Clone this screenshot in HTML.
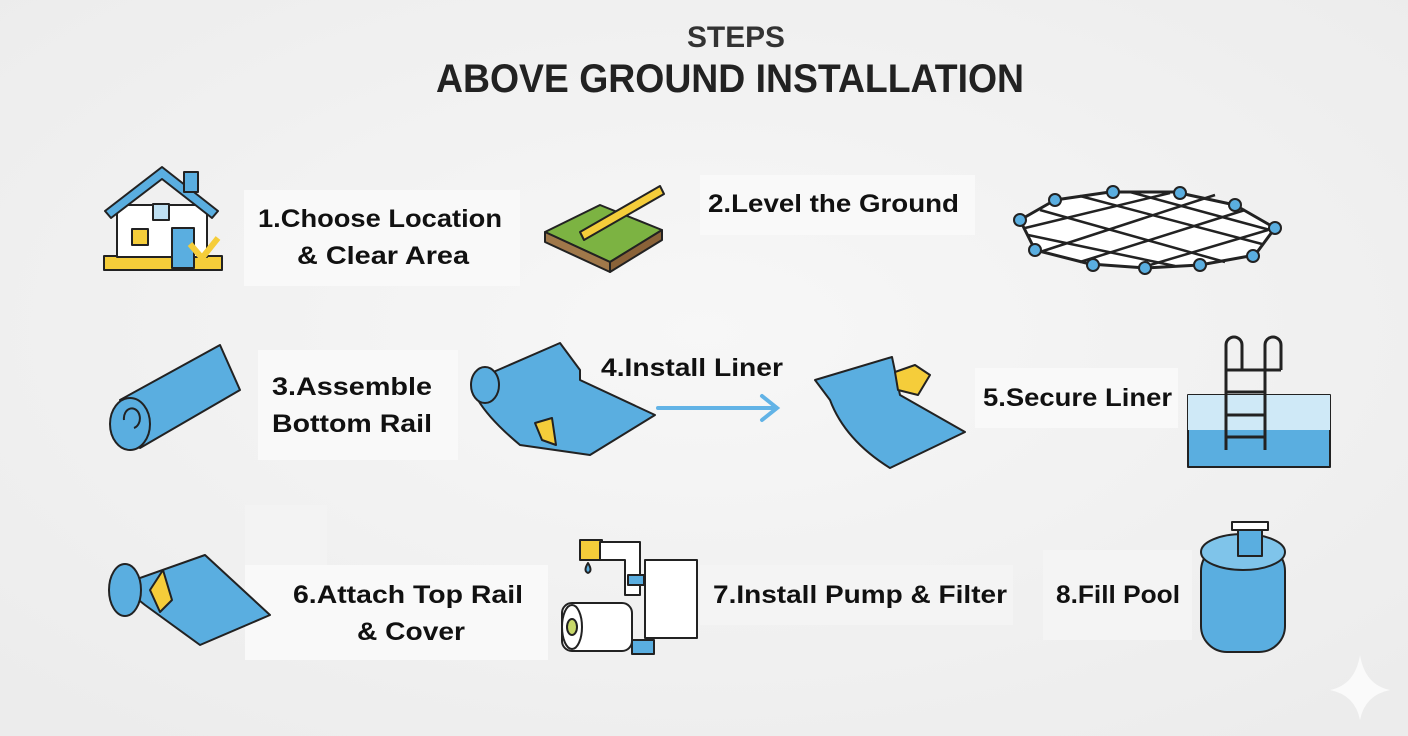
<!DOCTYPE html>
<html><head><meta charset="utf-8"><style>
html,body{margin:0;padding:0;width:1408px;height:736px;overflow:hidden;background:#f0f0f0}
svg{display:block}
text{font-family:"Liberation Sans",sans-serif;font-weight:bold;fill:#111}
</style></head><body>
<svg width="1408" height="736" viewBox="0 0 1408 736">
<defs><radialGradient id="bg" cx="50%" cy="45%" r="70%"><stop offset="0" stop-color="#f7f7f7"/><stop offset="1" stop-color="#ececec"/></radialGradient></defs>
<rect width="1408" height="736" fill="url(#bg)"/>
<text x="736" y="47" text-anchor="middle" font-size="30" fill="#333" style="fill:#333" textLength="98" lengthAdjust="spacingAndGlyphs">STEPS</text>
<text x="730" y="92" text-anchor="middle" font-size="40" style="fill:#222" textLength="588" lengthAdjust="spacingAndGlyphs">ABOVE GROUND INSTALLATION</text>

<!-- label boxes -->
<g fill="#f9f9f9">
<rect x="244" y="190" width="276" height="96"/>
<rect x="700" y="175" width="275" height="60"/>
<rect x="258" y="350" width="200" height="110"/>
<rect x="975" y="368" width="203" height="60"/>
<rect x="245" y="565" width="303" height="95"/>
<rect x="245" y="505" width="82" height="60" fill="#f3f3f3"/>
<rect x="700" y="565" width="313" height="60" fill="#f4f4f4"/>
<rect x="1043" y="550" width="149" height="90" fill="#f4f4f4"/>
</g>

<g font-size="25">
<text x="258" y="227" textLength="244" lengthAdjust="spacingAndGlyphs">1.Choose Location</text>
<text x="297" y="264" textLength="172" lengthAdjust="spacingAndGlyphs">&amp; Clear Area</text>
<text x="708" y="212" textLength="251" lengthAdjust="spacingAndGlyphs">2.Level the Ground</text>
<text x="272" y="395" textLength="160" lengthAdjust="spacingAndGlyphs">3.Assemble</text>
<text x="272" y="432" textLength="160" lengthAdjust="spacingAndGlyphs">Bottom Rail</text>
<text x="601" y="376" textLength="182" lengthAdjust="spacingAndGlyphs">4.Install Liner</text>
<text x="983" y="406" textLength="189" lengthAdjust="spacingAndGlyphs">5.Secure Liner</text>
<text x="293" y="603" textLength="230" lengthAdjust="spacingAndGlyphs">6.Attach Top Rail</text>
<text x="357" y="640" textLength="108" lengthAdjust="spacingAndGlyphs">&amp; Cover</text>
<text x="713" y="603" textLength="294" lengthAdjust="spacingAndGlyphs">7.Install Pump &amp; Filter</text>
<text x="1056" y="603" textLength="124" lengthAdjust="spacingAndGlyphs">8.Fill Pool</text>
</g>

<!-- arrow -->
<g stroke="#62b3e6" stroke-width="4" fill="none" stroke-linecap="round">
<line x1="658" y1="408" x2="776" y2="408"/><polyline points="762,396 777,408 762,420"/>
</g>

<g stroke="#222" stroke-width="2" stroke-linejoin="round">
<!-- house -->
<rect x="104" y="256" width="118" height="14" fill="#f5cd3a"/>
<rect x="117" y="205" width="90" height="52" fill="#fff"/>
<polygon points="105,211 162,167 218,211 212,218 162,179 111,218" fill="#5aaee0"/>
<rect x="184" y="172" width="14" height="20" fill="#5aaee0"/>
<rect x="153" y="204" width="16" height="16" fill="#bfe0f2"/>
<rect x="132" y="229" width="16" height="16" fill="#f5cd3a"/>
<rect x="172" y="228" width="22" height="40" fill="#5aaee0"/>
<polyline points="190,244 202,258 218,238" fill="none" stroke="#f5cd3a" stroke-width="6"/>
<!-- level ground -->
<polygon points="545,232 600,205 662,230 610,262" fill="#7cb342"/>
<polygon points="545,232 610,262 610,272 545,242" fill="#a0784a"/>
<polygon points="610,262 662,230 662,240 610,272" fill="#8a6238"/>
<polygon points="580,232 660,186 664,194 584,240" fill="#f5cd3a"/>
<!-- grid frame -->
<polygon points="1020,220 1055,200 1110,192 1175,192 1235,205 1275,228 1255,255 1200,265 1145,268 1090,264 1035,250" fill="#fff" stroke-width="3"/>
<g stroke-width="2.5" fill="none">
<line x1="1040" y1="210" x2="1225" y2="262"/><line x1="1080" y1="196" x2="1262" y2="244"/>
<line x1="1028" y1="235" x2="1175" y2="266"/><line x1="1130" y1="192" x2="1270" y2="230"/>
<line x1="1040" y1="252" x2="1215" y2="195"/><line x1="1080" y1="262" x2="1245" y2="210"/>
<line x1="1025" y1="228" x2="1170" y2="193"/><line x1="1140" y1="268" x2="1268" y2="230"/>
</g>
<g fill="#5aaee0"><circle cx="1020" cy="220" r="6"/><circle cx="1055" cy="200" r="6"/><circle cx="1113" cy="192" r="6"/><circle cx="1180" cy="193" r="6"/><circle cx="1235" cy="205" r="6"/><circle cx="1275" cy="228" r="6"/><circle cx="1253" cy="256" r="6"/><circle cx="1200" cy="265" r="6"/><circle cx="1145" cy="268" r="6"/><circle cx="1093" cy="265" r="6"/><circle cx="1035" cy="250" r="6"/></g>
<!-- roll 3 -->
<polygon points="120,400 220,345 240,390 140,448" fill="#5aaee0"/>
<ellipse cx="130" cy="424" rx="20" ry="26" fill="#5aaee0"/>
<path d="M124,420a8,10 0 1,1 10,8" fill="none"/>
<!-- liner roll 4a -->
<path d="M475,380 L560,343 L580,370 L580,380 L655,415 L590,455 L520,445 Q490,420 478,400Z" fill="#5aaee0"/>
<ellipse cx="485" cy="385" rx="14" ry="18" fill="#5aaee0"/>
<polygon points="535,423 552,418 556,445 542,440" fill="#f5cd3a"/>
<!-- liner 4b -->
<path d="M815,380 L892,357 L900,395 L965,432 L890,468 Q845,440 830,400 Z" fill="#5aaee0"/>
<polygon points="895,372 915,365 930,375 918,395 898,390" fill="#f5cd3a"/>
<!-- ladder pool -->
<rect x="1188" y="395" width="142" height="72" fill="#5aaee0"/>
<rect x="1188" y="395" width="142" height="35" fill="#cfe9f7" stroke="none"/>
<g fill="none" stroke-width="3"><path d="M1226,450 V345 a8,8 0 0,1 16,0 V370"/><path d="M1265,450 V345 a8,8 0 0,1 16,0 V370"/>
<line x1="1226" y1="370" x2="1281" y2="370"/><line x1="1226" y1="392" x2="1265" y2="392"/><line x1="1226" y1="415" x2="1265" y2="415"/><line x1="1226" y1="437" x2="1265" y2="437"/></g>
<!-- roll 6 -->
<polygon points="120,585 205,555 270,615 200,645 145,605" fill="#5aaee0"/>
<ellipse cx="125" cy="590" rx="16" ry="26" fill="#5aaee0"/>
<polygon points="150,590 163,570 172,600 160,612" fill="#f5cd3a"/>
<!-- pump -->
<rect x="580" y="540" width="22" height="20" fill="#f5cd3a"/>
<path d="M600,542 H640 V595 H625 V560 H600Z" fill="#fff"/>
<rect x="645" y="560" width="52" height="78" fill="#fff"/>
<rect x="562" y="603" width="70" height="48" rx="10" fill="#fff"/>
<ellipse cx="572" cy="627" rx="10" ry="22" fill="#fff"/>
<ellipse cx="572" cy="627" rx="5" ry="8" fill="#c8d86a"/>
<rect x="632" y="640" width="22" height="14" fill="#5aaee0"/>
<rect x="628" y="575" width="16" height="10" fill="#5aaee0"/>
<path d="M588,563 q-5,8 0,10 q5,-2 0,-10z" fill="#5aaee0"/>
<!-- fill pool -->
<rect x="1201" y="545" width="84" height="107" rx="26" fill="#5aaee0"/>
<ellipse cx="1243" cy="552" rx="42" ry="18" fill="#7fc4ea"/>
<rect x="1238" y="522" width="24" height="34" fill="#5aaee0"/>
<rect x="1232" y="522" width="36" height="8" fill="#fff"/>
</g>
<path d="M1360,655 Q1365,685 1390,690 Q1365,695 1360,720 Q1355,695 1330,690 Q1355,685 1360,655Z" fill="#fafafa"/>
</svg>
</body></html>
